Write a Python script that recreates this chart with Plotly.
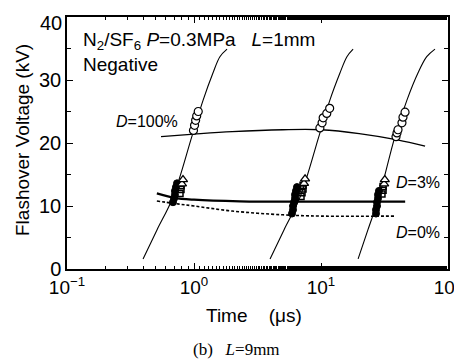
import plotly.graph_objects as go

# V-t curves (time in microseconds, voltage kV)
vt1_t = [0.397, 0.511, 0.683, 0.964, 1.18, 1.41, 1.60, 1.82]
vt1_v = [1.6, 6.2, 11.4, 21.1, 26.8, 31.1, 33.7, 34.9]
vt2_t = [3.97, 5.11, 6.83, 9.64, 11.75, 14.1, 16.0, 17.9]
vt2_v = [1.6, 6.2, 11.4, 21.1, 26.8, 31.1, 33.7, 34.9]
vt3_t = [19.6, 23.4, 28.6, 38.3, 47.5, 58.0, 68.0, 79.0]
vt3_v = [1.6, 6.2, 11.4, 21.1, 26.8, 31.1, 33.7, 34.9]

# D lines
d100_t = [0.55, 1.0, 2.0, 5.0, 10.0, 20.0, 40.0, 66.0]
d100_v = [21.0, 21.4, 21.8, 22.1, 22.1, 21.5, 20.5, 19.5]
d3_t = [0.51, 0.7, 1.0, 2.3, 10.0, 46.0]
d3_v = [12.0, 11.3, 11.0, 10.75, 10.7, 10.7]
d0_t = [0.51, 0.7, 1.0, 2.0, 5.0, 10.0, 38.0]
d0_v = [10.8, 10.4, 10.0, 9.2, 8.6, 8.4, 8.4]

# Measured points
open_circ_t = [0.99, 1.01, 1.03, 1.05, 1.08,
               9.8, 10.2, 10.4, 11.1, 11.7,
               38.96, 39.67, 40.4, 43.4, 44.2, 45.9]
open_circ_v = [22.0, 22.8, 23.6, 24.3, 25.0,
               22.4, 23.2, 24.0, 24.7, 25.5,
               21.0, 21.6, 22.1, 23.2, 24.1, 24.9]
tri_t = [0.804, 0.819, 7.35, 7.49, 31.4, 31.8]
tri_v = [13.5, 14.2, 13.6, 14.3, 13.5, 14.2]
sq_t = [0.776, 0.79, 0.79, 6.96, 7.09, 7.22, 7.22, 30.2, 30.8, 30.8]
sq_v = [12.0, 12.6, 13.2, 11.5, 12.1, 12.7, 13.3, 11.9, 12.5, 13.1]
fill_t = [0.683, 0.696, 0.708, 0.708, 0.721, 0.735,
          5.91, 6.02, 6.02, 6.13, 6.24, 6.24, 6.35, 6.47,
          27.1, 27.1, 27.6, 27.6, 28.1, 28.1, 28.6]
fill_v = [10.6, 11.2, 11.8, 12.4, 13.0, 13.6,
          8.8, 9.4, 10.0, 10.6, 11.2, 11.8, 12.4, 13.0,
          8.8, 9.4, 10.0, 10.6, 11.2, 11.8, 12.4]

x_tickvals = [0.1, 1, 10, 100]
x_ticktext = ["10<sup>\u22121</sup>", "10<sup>0</sup>", "10<sup>1</sup>", "10<sup>2</sup>"]
y_tickvals = [0, 10, 20, 30, 40]
y_ticktext = ["0", "10", "20", "30", ""]   # top label "40" is drawn slightly lower, as in the original
y_top_label = "40"

FONT = "Liberation Sans, Arial, sans-serif"

fig = go.Figure()
for t, v in [(vt1_t, vt1_v), (vt2_t, vt2_v), (vt3_t, vt3_v)]:
    fig.add_trace(go.Scatter(x=t, y=v, mode="lines", line=dict(color="black", width=1.1, shape="spline"),
                             showlegend=False, hoverinfo="skip"))
fig.add_trace(go.Scatter(x=d100_t, y=d100_v, mode="lines", line=dict(color="black", width=1.3, shape="spline"), showlegend=False))
fig.add_trace(go.Scatter(x=d3_t, y=d3_v, mode="lines", line=dict(color="black", width=2.2, shape="spline"), showlegend=False))
fig.add_trace(go.Scatter(x=d0_t, y=d0_v, mode="lines", line=dict(color="black", width=1.6, dash="3px,2px", shape="spline"), showlegend=False))

fig.add_trace(go.Scatter(x=fill_t, y=fill_v, mode="markers",
                         marker=dict(symbol="circle", size=7, color="black", line=dict(color="black", width=1)), showlegend=False))
fig.add_trace(go.Scatter(x=sq_t, y=sq_v, mode="markers",
                         marker=dict(symbol="square-open", size=6, color="black", line=dict(width=1.5)), showlegend=False))
fig.add_trace(go.Scatter(x=tri_t, y=tri_v, mode="markers",
                         marker=dict(symbol="triangle-up", size=8, color="white", line=dict(color="black", width=1.3)), showlegend=False))
fig.add_trace(go.Scatter(x=open_circ_t, y=open_circ_v, mode="markers",
                         marker=dict(symbol="circle", size=8, color="white", line=dict(color="black", width=1.2)), showlegend=False))

def px_x(p):
    return (p - 67) / 381.0

def px_y(q):
    return (269 - q) / 252.0

nb = "\u00a0"
annos = [
    dict(text="N<sub>2</sub>/SF<sub>6</sub> <i>P</i>=0.3MPa" + nb * 3 + "<i>L</i>=1mm", x=px_x(81), y=px_y(41),
         xanchor="left", yanchor="middle", font=dict(size=19)),
    dict(text="Negative", x=px_x(81), y=px_y(64), xanchor="left", yanchor="middle", font=dict(size=19)),
    dict(text="<i>D</i>=100%", x=px_x(114), y=px_y(122), xanchor="left", yanchor="middle", font=dict(size=16)),
    dict(text="<i>D</i>=3%", x=px_x(394), y=px_y(182), xanchor="left", yanchor="middle", font=dict(size=16)),
    dict(text="<i>D</i>=0%", x=px_x(394), y=px_y(232), xanchor="left", yanchor="middle", font=dict(size=16)),
    dict(text="Flashover Voltage (kV)", x=px_x(22), y=px_y(140), xanchor="center", yanchor="middle",
         textangle=-90, font=dict(size=19)),
    dict(text="Time" + nb * 4 + "(\u03bcs)", x=px_x(254), y=px_y(315), xanchor="center", yanchor="middle",
         font=dict(size=19)),
    dict(text="(b)" + nb * 3 + "<i>L</i>=9mm", x=px_x(236), y=px_y(349), xanchor="center", yanchor="middle",
         font=dict(size=17, family="Liberation Serif, Times New Roman, serif")),
    dict(text=y_top_label, x=px_x(64), y=px_y(23), xanchor="right", yanchor="middle", font=dict(size=20)),
]
for a in annos:
    a.update(xref="paper", yref="paper", showarrow=False)
    if "font" in a and "family" not in a["font"]:
        a["font"]["family"] = FONT
    a["font"]["color"] = "black"

# page body has an 8px default margin, so the figure is offset by 8px
fig.update_layout(
    width=454, height=353,
    margin=dict(l=59, r=14, t=9, b=92),
    paper_bgcolor="white", plot_bgcolor="white",
    font=dict(family=FONT, size=19, color="black"),
    annotations=annos,
    showlegend=False,
)
fig.update_xaxes(type="log", range=[-1, 2], tickvals=x_tickvals, ticktext=x_ticktext,
                 ticks="inside", ticklen=6, tickwidth=1, tickcolor="black",
                 showline=True, linecolor="black", linewidth=1.5, mirror="allticks",
                 showgrid=False, zeroline=False, automargin=False, ticklabeloverflow="allow",
                 minor=dict(ticks="inside", ticklen=3, tickcolor="black", showgrid=False),
                 tickfont=dict(size=19, family=FONT))
fig.update_yaxes(range=[0, 40], tickvals=y_tickvals, ticktext=y_ticktext,
                 ticks="inside", ticklen=6, tickwidth=1, tickcolor="black",
                 showline=True, linecolor="black", linewidth=1.5, mirror="allticks",
                 showgrid=False, zeroline=False, automargin=False, ticklabeloverflow="allow",
                 minor=dict(ticks="inside", ticklen=4, dtick=5, tickcolor="black", showgrid=False),
                 tickfont=dict(size=20, family=FONT))

fig.write_html("out.html")
